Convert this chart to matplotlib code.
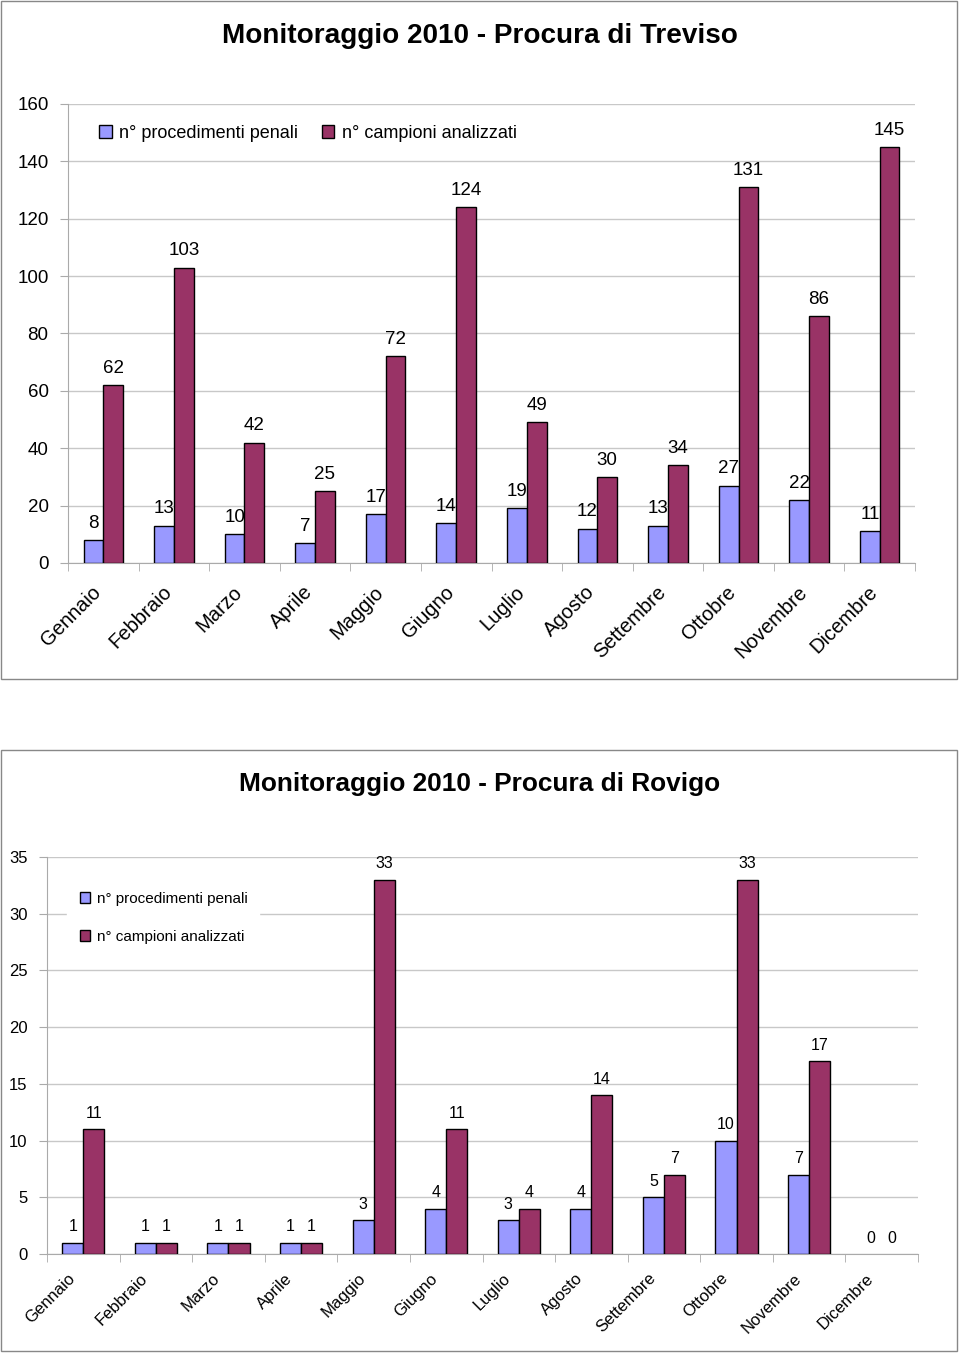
import matplotlib
matplotlib.use("Agg")
import matplotlib.pyplot as plt
import numpy as np
from matplotlib.patches import Rectangle
from matplotlib.ticker import MultipleLocator, FixedLocator

plt.rcParams['font.family'] = ['Liberation Sans', 'DejaVu Sans']

months = ["Gennaio", "Febbraio", "Marzo", "Aprile", "Maggio", "Giugno", "Luglio",
          "Agosto", "Settembre", "Ottobre", "Novembre", "Dicembre"]
series_names = ["n° procedimenti penali", "n° campioni analizzati"]

treviso_proc = [8, 13, 10, 7, 17, 14, 19, 12, 13, 27, 22, 11]
treviso_camp = [62, 103, 42, 25, 72, 124, 49, 30, 34, 131, 86, 145]

rovigo_proc = [1, 1, 1, 1, 3, 4, 3, 4, 5, 10, 7, 0]
rovigo_camp = [11, 1, 1, 1, 33, 11, 4, 14, 7, 33, 17, 0]

C_BLUE = "#9999FF"
C_PURPLE = "#993366"

fig = plt.figure(figsize=(9.6, 13.55), dpi=100)
W, H = 960, 1355

def fr(x0, y0, x1, y1):
    return [x0 / W, 1 - y1 / H, (x1 - x0) / W, (y1 - y0) / H]

# frames
for (x0, y0, x1, y1) in [(1, 1, 957, 679), (1, 750, 957, 1351)]:
    r = Rectangle((x0 / W, 1 - y1 / H), (x1 - x0) / W, (y1 - y0) / H,
                  transform=fig.transFigure, fill=False, edgecolor="#888888", lw=1.0)
    fig.add_artist(r)

def draw(ax, a, b, ymax, ystep, bw, fs_tick, fs_lab, fs_x, lab_off, xshift, xpad):
    x = np.arange(len(months))
    lw1 = [1.0 if v > 0 else 0 for v in a]
    lw2 = [1.0 if v > 0 else 0 for v in b]
    b1 = ax.bar(x - bw / 2, a, bw, color=C_BLUE, edgecolor="black", linewidth=lw1,
                label=series_names[0], zorder=3)
    b2 = ax.bar(x + bw / 2, b, bw, color=C_PURPLE, edgecolor="black", linewidth=lw2,
                label=series_names[1], zorder=3)
    for bars, vals in ((b1, a), (b2, b)):
        for rect, v in zip(bars, vals):
            ax.annotate(str(v), (rect.get_x() + rect.get_width() / 2, v),
                        xytext=(0, lab_off), textcoords="offset points",
                        ha="center", va="bottom", fontsize=fs_lab, zorder=4)
    ax.set_xlim(-0.5, len(months) - 0.5)
    ax.set_ylim(0, ymax)
    ax.yaxis.set_major_locator(MultipleLocator(ystep))
    ax.grid(axis="y", color="#c8c8c8", lw=1.0, zorder=0)
    for s in ("top", "right"):
        ax.spines[s].set_visible(False)
    ax.spines["left"].set_color("#aaaaaa")
    ax.spines["bottom"].set_color("#aaaaaa")
    # invisible major ticks placed slightly left of centre so rotated labels end there
    ax.set_xticks(x + xshift)
    ax.set_xticklabels(months, rotation=45, ha="right", rotation_mode="anchor",
                       fontsize=fs_x)
    ax.tick_params(axis="x", which="major", length=0, pad=xpad)
    ax.xaxis.set_minor_locator(FixedLocator(np.arange(-0.5, len(months), 1.0)))
    ax.tick_params(axis="x", which="minor", length=6, color="#aaaaaa", direction="out")
    ax.tick_params(axis="y", length=6, color="#aaaaaa", labelsize=fs_tick, pad=8)
    return ax

ax1 = fig.add_axes(fr(68, 104, 915, 563))
draw(ax1, treviso_proc, treviso_camp, 160, 20, 0.28, 13.5, 13.5, 14.5, 6, -0.17, 14)
leg1 = ax1.legend(loc="upper left", bbox_to_anchor=(0.018, 0.99), ncol=2, frameon=False,
                  fontsize=13, handlelength=0.7, handleheight=0.7, handletextpad=0.4,
                  columnspacing=1.3)
fig.text(480 / W, 1 - 36 / H, "Monitoraggio 2010 - Procura di Treviso", ha="center",
         va="center", fontsize=20.1, fontweight="bold")

ax2 = fig.add_axes(fr(47, 857, 918, 1254))
draw(ax2, rovigo_proc, rovigo_camp, 35, 5, 0.29, 12, 11.5, 12, 6, -0.22, 12)
leg2 = ax2.legend(loc="upper left", bbox_to_anchor=(0.02, 0.95), ncol=1, frameon=True,
                  fontsize=11, handlelength=0.7, handleheight=0.7, handletextpad=0.4,
                  labelspacing=1.55, borderpad=0.5)
leg2.get_frame().set_edgecolor("white")
leg2.get_frame().set_facecolor("white")
leg2.get_frame().set_alpha(1)
leg2.get_frame().set_boxstyle("square")
leg2.set_zorder(5)
fig.text(480 / W, 1 - 784 / H, "Monitoraggio 2010 - Procura di Rovigo", ha="center",
         va="center", fontsize=18.9, fontweight="bold")

fig.savefig("out.png", dpi=100)
